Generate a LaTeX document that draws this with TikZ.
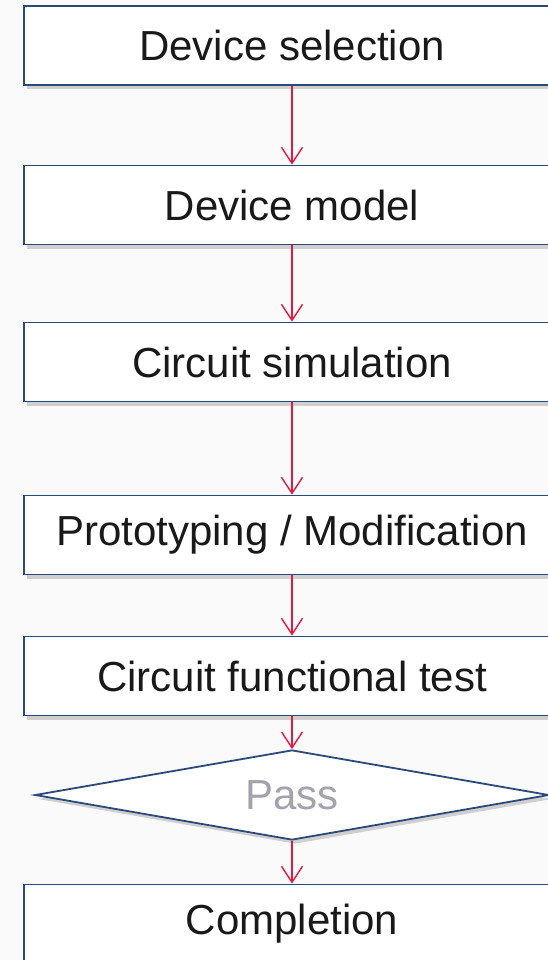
\documentclass[tikz,border=0pt]{standalone}
\usepackage{fontspec}
\setmainfont{Liberation Sans}
\usetikzlibrary{shapes.geometric,shadows}
\usetikzlibrary{arrows.meta}

\definecolor{boxblue}{HTML}{2B4A7A}
\definecolor{flowred}{HTML}{E8173F}
\definecolor{passgray}{HTML}{A3A3AB}

\tikzset{
  stepbox/.style={draw=boxblue, line width=1.8pt, fill=white,
    minimum width=536pt, minimum height=79pt, inner sep=0pt,
    font=\fontsize{42}{44}\selectfont, text=black!90,
    drop shadow={shadow xshift=3pt, shadow yshift=-4pt, opacity=.35}},
  decision/.style={diamond, draw=boxblue, line width=1.8pt, fill=white,
    minimum width=514pt, minimum height=90pt, inner sep=0pt, aspect=5.7,
    font=\fontsize{42}{44}\selectfont, text=passgray,
    drop shadow={shadow xshift=3pt, shadow yshift=-4pt, opacity=.35}},
  flow/.style={draw=flowred, line width=1.4pt, -{Straight Barb[length=16pt,width=21pt]}}
}

\begin{document}
\begin{tikzpicture}[x=1pt,y=-1pt]
\clip (0,0) rectangle (548,960);
\fill[gray!4] (0,0) rectangle (548,960);

\node[stepbox] (select) at (292,45.5) {Device selection};
\node[stepbox] (model) at (292,205) {Device model};
\node[stepbox] (sim) at (292,362) {Circuit simulation};
\node[stepbox] (proto) at (292,535) {Prototyping / Modification};
\node[stepbox] (test) at (292,676) {Circuit functional test};
\node[decision] (pass) at (292,795) {Pass};
\node[stepbox] (done) at (292,924) {Completion};

\draw[flow] (select) -- (model);
\draw[flow] (model) -- (sim);
\draw[flow] (sim) -- (proto);
\draw[flow] (proto) -- (test);
\draw[flow] (test) -- (pass);
\draw[flow] (pass) -- (done);
\end{tikzpicture}
\end{document}
